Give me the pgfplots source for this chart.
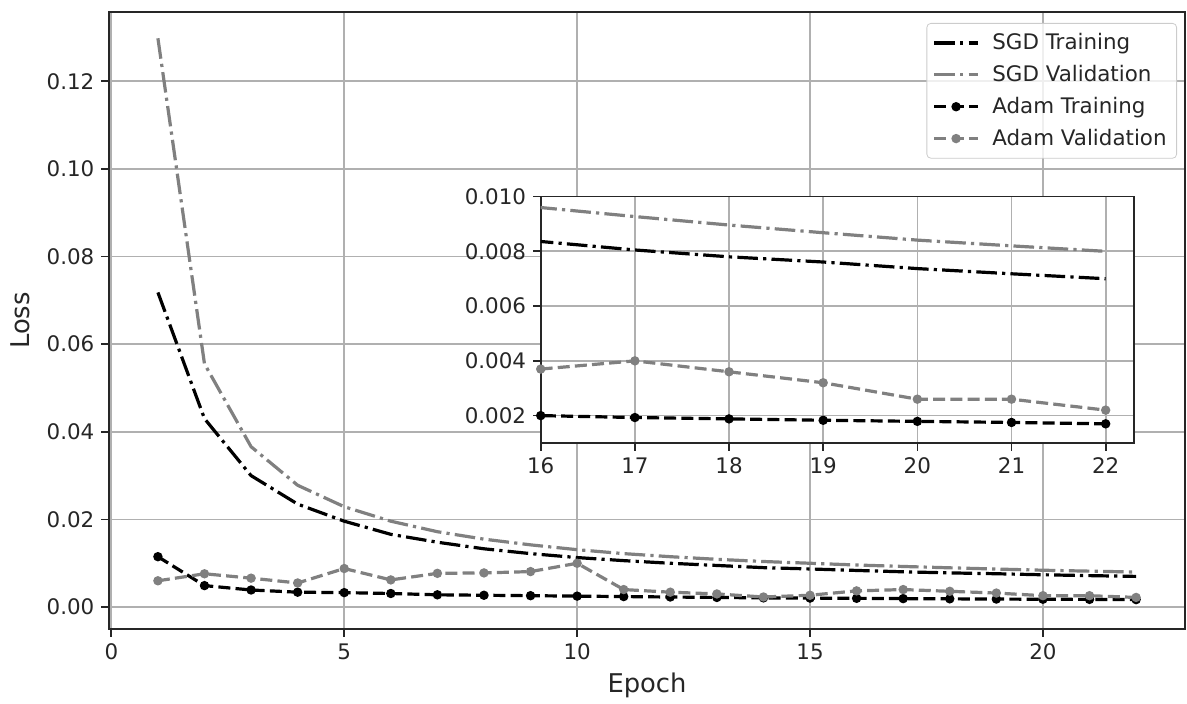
\documentclass[border=0pt]{standalone}
\usepackage{pgfplots}
\pgfplotsset{compat=1.18}
\usepackage{fontspec}
\setmainfont{DejaVu Sans}

\definecolor{mplgray}{HTML}{808080}
\definecolor{gridgray}{HTML}{B0B0B0}
\definecolor{spine}{HTML}{262626}

\pgfplotstableread{
x sgdtr sgdva adtr adva
1 0.0718 0.1298 0.0115 0.0060
2 0.0430 0.0555 0.0049 0.0076
3 0.0300 0.0366 0.0039 0.0066
4 0.0235 0.0278 0.0034 0.0055
5 0.0196 0.0229 0.0033 0.0088
6 0.0166 0.0196 0.0031 0.0062
7 0.0148 0.0172 0.0028 0.0077
8 0.0133 0.0155 0.0027 0.0078
9 0.0122 0.0142 0.0026 0.0081
10 0.0113 0.0131 0.0025 0.0100
11 0.0106 0.0122 0.0024 0.0040
12 0.0100 0.0115 0.0023 0.0034
13 0.0095 0.0109 0.0022 0.0030
14 0.0090 0.0104 0.0021 0.0023
15 0.0087 0.0100 0.00205 0.0027
16 0.00836 0.0096 0.0020 0.0037
17 0.00805 0.00927 0.00193 0.0040
18 0.0078 0.00896 0.00188 0.0036
19 0.00761 0.00868 0.00183 0.0032
20 0.00737 0.00841 0.00179 0.0026
21 0.00718 0.0082 0.00175 0.0026
22 0.0070 0.0080 0.0017 0.0022
}\losses

\pgfplotsset{
  common/.style={
    scale only axis,
    axis line style={line width=0.85pt, spine},
    tick align=outside,
    tick pos=left,
    major tick length=3.8pt,
    every tick/.style={spine, line width=0.85pt},
    grid=major,
    grid style={gridgray, line width=0.85pt},
    /pgf/number format/assume math mode=true,
    ticklabel style={font=\fontsize{10.7}{12}\selectfont, text=spine},
    label style={font=\fontsize{12.9}{15}\selectfont, text=spine},
    legend image code/.code={\draw[mark repeat=2,mark phase=2] plot coordinates {(0cm,0cm) (0.38cm,0cm) (0.76cm,0cm)};},
  },
  sgdtr/.style={black, line width=1.6pt, dash pattern=on 10.3pt off 2.6pt on 1.6pt off 2.6pt, no markers},
  sgdva/.style={mplgray, line width=1.6pt, dash pattern=on 10.3pt off 2.6pt on 1.6pt off 2.6pt, no markers},
  adtr/.style={black, line width=1.6pt, dash pattern=on 6pt off 2.6pt, mark=*, mark size=1.5pt, mark options={solid}},
  adva/.style={mplgray, line width=1.6pt, dash pattern=on 6pt off 2.6pt, mark=*, mark size=1.5pt, mark options={solid, mplgray}},
}

\begin{document}
\begin{tikzpicture}
\begin{axis}[
    common,
    width=538pt, height=308.5pt,
    xmin=-0.05, xmax=23.05,
    ymin=-0.005, ymax=0.1358,
    xtick={0,5,10,15,20},
    ytick={0,0.02,0.04,0.06,0.08,0.10,0.12},
    yticklabel style={/pgf/number format/fixed, /pgf/number format/fixed zerofill, /pgf/number format/precision=2},
    xlabel={Epoch},
    ylabel={Loss},
    xlabel style={at={(axis description cs:0.5,-0.0908)}, anchor=center},
    ylabel style={at={(axis description cs:-0.0827,0.5)}, anchor=center, rotate=0},
    legend cell align=left,
    legend style={at={(1,1)}, anchor=north east, xshift=-4pt, yshift=-5.5pt,
        draw=black!20, rounded corners=2pt, fill=white, fill opacity=0.8, text opacity=1,
        font=\fontsize{10.7}{12}\selectfont, text=spine,
        row sep=2.3pt, column sep=4.5pt, inner xsep=3pt, inner ysep=3pt},
]
\addplot[sgdtr] table[x=x, y=sgdtr] {\losses};
\addlegendentry{SGD Training}
\addplot[sgdva] table[x=x, y=sgdva] {\losses};
\addlegendentry{SGD Validation}
\addplot[adtr] table[x=x, y=adtr] {\losses};
\addlegendentry{Adam Training}
\addplot[adva] table[x=x, y=adva] {\losses};
\addlegendentry{Adam Validation}
\end{axis}

\begin{axis}[
    common,
    at={(215.85pt,93pt)}, anchor=south west,
    width=296.6pt, height=123.2pt,
    axis background/.style={fill=white},
    xmin=16, xmax=22.3,
    ymin=0.001, ymax=0.010,
    xtick={16,17,18,19,20,21,22},
    ytick={0.002,0.004,0.006,0.008,0.010},
    scaled y ticks=false,
    yticklabel style={/pgf/number format/fixed, /pgf/number format/fixed zerofill, /pgf/number format/precision=3},
]
\addplot[sgdtr] table[x=x, y=sgdtr] {\losses};
\addplot[sgdva] table[x=x, y=sgdva] {\losses};
\addplot[adtr] table[x=x, y=adtr] {\losses};
\addplot[adva] table[x=x, y=adva] {\losses};
\end{axis}
\pgfresetboundingbox
\path[use as bounding box] (-54.5pt,-37.5pt) rectangle (539pt,314.5pt);
\end{tikzpicture}
\end{document}
